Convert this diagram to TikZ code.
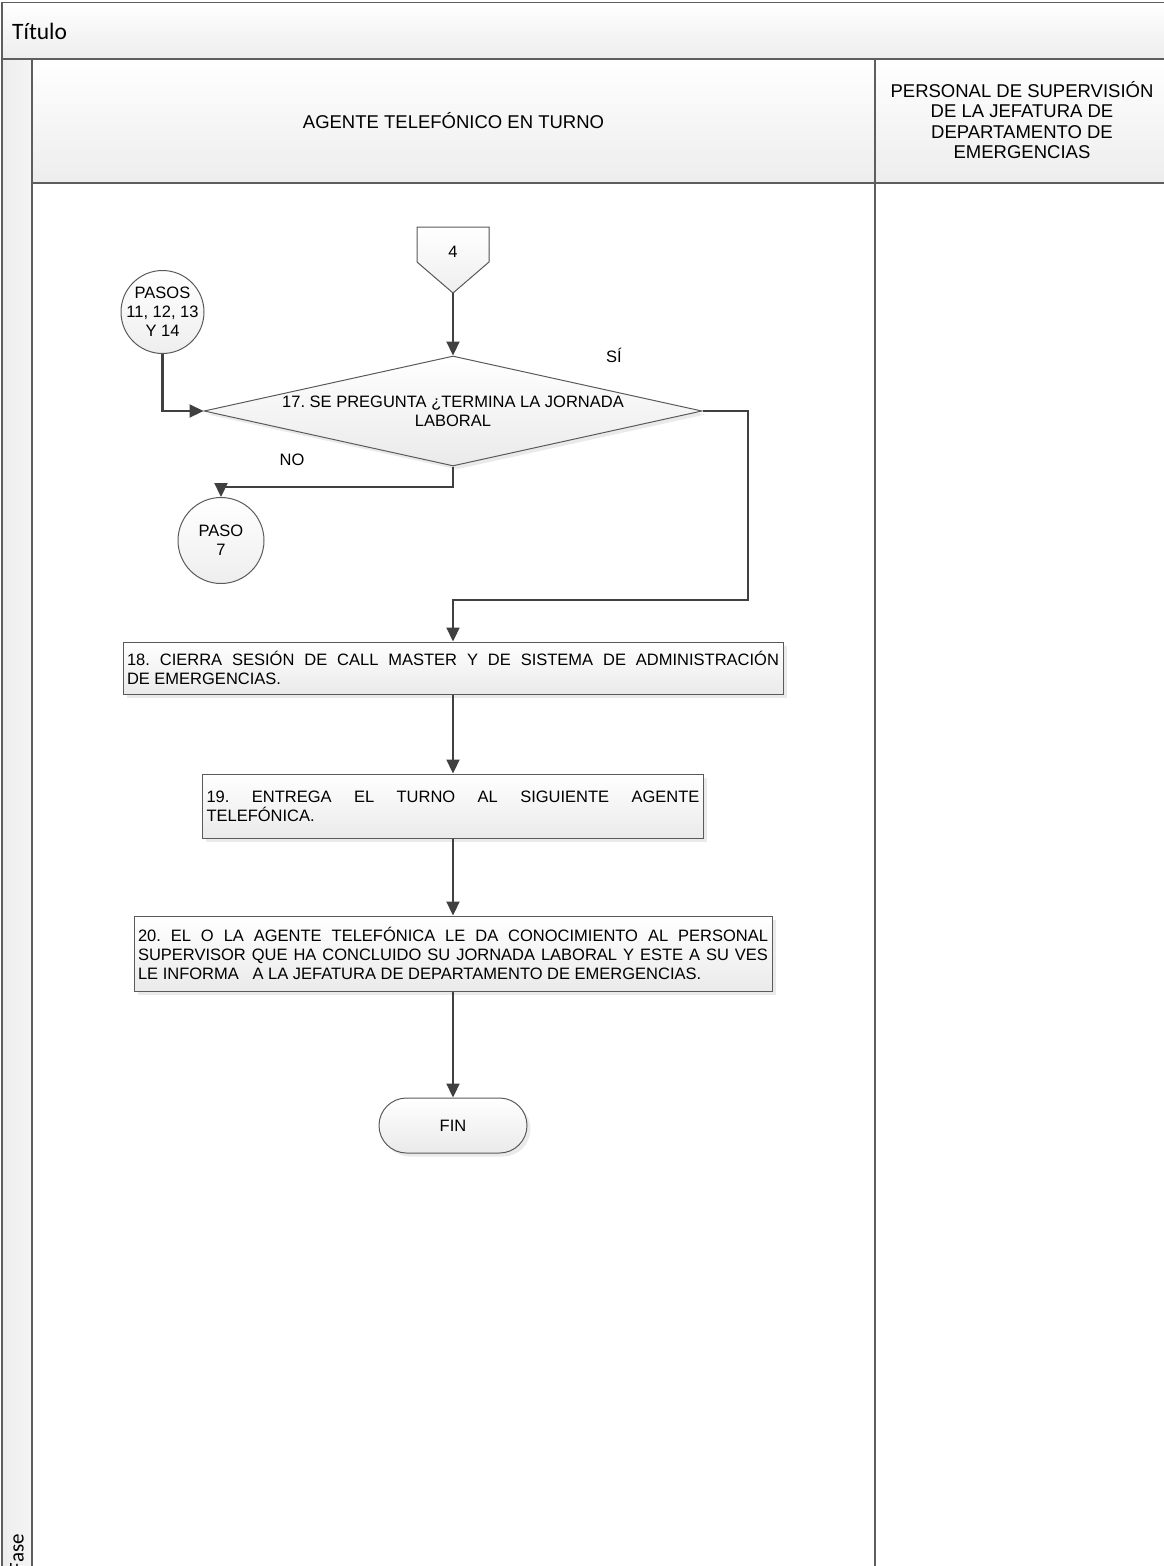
\documentclass[tikz,border=0pt]{standalone}
\usepackage{fontspec}
\setmainfont{Liberation Sans}
\newfontfamily\calfont{Carlito}
\usetikzlibrary{arrows.meta,shapes.geometric,shadows}
\frenchspacing

\definecolor{bordc}{HTML}{5E5E5E}
\definecolor{connc}{HTML}{404040}
\definecolor{shapec}{HTML}{5A5A5A}
\definecolor{headbot}{HTML}{EDEDED}
\definecolor{boxbot}{HTML}{EAEAEA}
\definecolor{circfill}{HTML}{EEEEEE}
\definecolor{shadowc}{HTML}{D6D6D6}

\newcommand{\flowfont}{\fontsize{16.5}{19}\selectfont}
\newcommand{\headfont}{\fontsize{18.5}{20.5}\selectfont}
\newcommand{\titfont}{\calfont\fontsize{23.5}{26}\selectfont}

\begin{document}
\begin{tikzpicture}[x=1pt,y=1pt,
  pool/.style={draw=bordc, line width=1.6pt},
  conn/.style={draw=connc, line width=2.2pt, -{Triangle[length=14pt,width=13pt]}},
  shade/.style={drop shadow={shadow xshift=3.5pt, shadow yshift=-3.5pt, fill=shadowc}},
  stepbox/.style={draw=shapec, line width=1pt, top color=white, bottom color=boxbot,
    shade, align=justify, inner xsep=4pt, inner ysep=0pt, font=\flowfont},
  decision/.style={diamond, draw=shapec, line width=1pt, top color=white, bottom color=boxbot,
    shade, inner sep=0pt},
  refcircle/.style={circle, draw=shapec, line width=1pt, top color=white, bottom color=circfill,
    inner sep=0pt},
  terminal/.style={draw=shapec, line width=1pt, rounded corners=27.5pt, top color=white,
    bottom color=boxbot, shade, minimum width=148pt, minimum height=55pt, font=\flowfont},
  offpage/.style={draw=shapec, line width=1pt, top color=white, bottom color=circfill},
  lbl/.style={font=\flowfont, align=center, inner sep=0pt}
]
\useasboundingbox (0,0) rectangle (1163,-1566);

% pool background
\path[top color=white, bottom color=headbot] (2,-2.5) rectangle (1172,-59);
\path[left color=headbot, right color=white!96!black] (2,-59) rectangle (32,-1570);
\path[top color=white, bottom color=headbot] (32,-59) rectangle (1172,-183);

% pool and lane borders
\draw[pool] (1172,-2.5) -- (2,-2.5) -- (2,-1570);
\draw[pool] (2,-59) -- (1172,-59);
\draw[pool] (32,-59) -- (32,-1570);
\draw[pool] (32,-183) -- (1172,-183);
\draw[pool] (875,-59) -- (875,-1570);

% headings
\node[font=\titfont, anchor=west, inner sep=0pt] (titulo) at (12,-31) {Título};
\node[font=\calfont\fontsize{21}{24}\selectfont, rotate=90, anchor=east, inner sep=0pt]
  (fase) at (17,-1534) {Fase};
\node[font=\headfont, inner sep=0pt] (laneA) at (453.5,-121) {AGENTE TELEFÓNICO EN TURNO};
\node[font=\headfont, align=center, inner sep=0pt] (laneB) at (1022,-120)
  {PERSONAL DE SUPERVISIÓN\\DE LA JEFATURA DE\\DEPARTAMENTO DE\\EMERGENCIAS};

% off-page reference 4
\filldraw[offpage] (417,-227) -- (489,-227) -- (489,-262) -- (453,-293) -- (417,-262) -- cycle;
\node[lbl] (c4) at (453,-252) {4};
\coordinate (c4tip) at (453,-293);

% on-page references
\node[refcircle, minimum size=83pt,
  label={[lbl]center:PASOS\\11, 12, 13\\Y 14}]
  (p11) at (162.5,-312) {};
\node[refcircle, minimum size=86pt,
  label={[lbl]center:PASO\\7}] (p7) at (221,-540.5) {};

% decision
\node[decision, minimum width=498pt, minimum height=110pt,
  label={[lbl]center:17. SE PREGUNTA ¿TERMINA LA JORNADA\\LABORAL}]
  (d17) at (453,-411) {};
\node[lbl] (si) at (614,-355) {SÍ};
\node[lbl] (no) at (292,-460) {NO};

% process steps
\node[stepbox, text width=652pt, minimum height=52pt] (b18) at (453,-668)
  {18. CIERRA SESIÓN DE CALL MASTER Y DE SISTEMA DE ADMINISTRACIÓN\linebreak DE EMERGENCIAS.};
\node[stepbox, text width=493pt, minimum height=64pt] (b19) at (453,-806)
  {19. ENTREGA EL TURNO AL SIGUIENTE AGENTE\linebreak TELEFÓNICA.};
\node[stepbox, text width=630pt, minimum height=75pt] (b20) at (453,-953.5)
  {20. EL O LA AGENTE TELEFÓNICA LE DA CONOCIMIENTO AL PERSONAL\linebreak
   SUPERVISOR QUE HA CONCLUIDO SU JORNADA LABORAL Y ESTE A SU VES\linebreak
   LE INFORMA\ \ \ A LA JEFATURA DE DEPARTAMENTO DE EMERGENCIAS.};
\node[terminal] (fin) at (453,-1125.5) {FIN};

% routing points
\coordinate (nobend) at (453,-487);
\coordinate (sia) at (748,-411);
\coordinate (sib) at (748,-600);

% connectors
\draw[conn] (c4tip) -- (d17.north);
\draw[conn] (p11.south) |- (d17.west);
\draw[conn] (d17.south) -- (nobend) -| (p7.north);
\draw[conn] (d17.east) -- (sia) -- (sib) -| (b18.north);
\draw[conn] (b18.south) -- (b19.north);
\draw[conn] (b19.south) -- (b20.north);
\draw[conn] (b20.south) -- (fin.north);
\end{tikzpicture}
\end{document}
